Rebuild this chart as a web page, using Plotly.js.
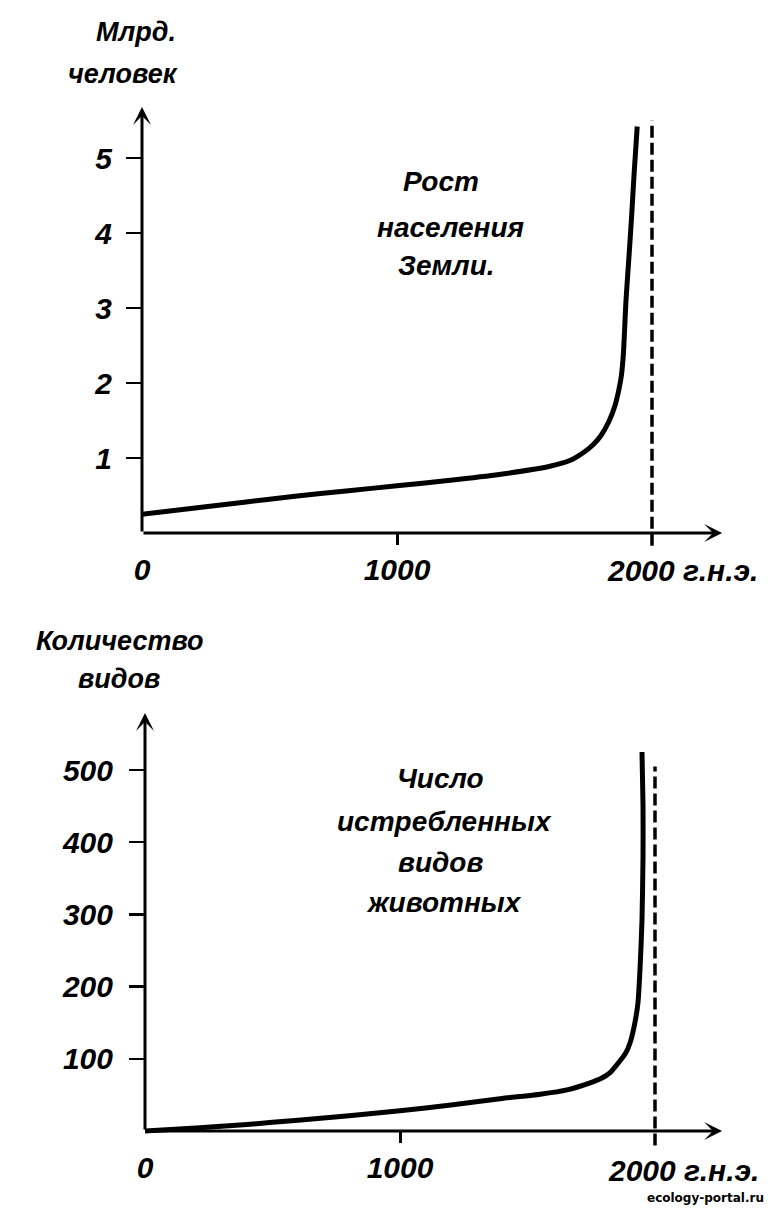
<!DOCTYPE html>
<html>
<head>
<meta charset="utf-8">
<script src="https://cdn.plot.ly/plotly-3.0.1.min.js"></script>
<style>html,body{margin:0;padding:0;background:#fff;}#chart{width:768px;height:1209px;}</style>
</head>
<body>
<div id="chart"></div>
<script>
// ---------- DATA ----------
// Top chart: world population growth (billions)
const popYears  = [0, 200, 400, 600, 800, 1000, 1200, 1400, 1600, 1680, 1730, 1770, 1800, 1830, 1855, 1870, 1880, 1888, 1898, 1910, 1920, 1930, 1942];
const popValues = [0.25, 0.33, 0.41, 0.49, 0.56, 0.63, 0.70, 0.78, 0.89, 0.97, 1.07, 1.18, 1.30, 1.48, 1.70, 1.91, 2.10, 2.40, 3.10, 3.70, 4.22, 4.80, 5.42];
const popTickVals = [1, 2, 3, 4, 5];
const popTickText = ['1', '2', '3', '4', '5'];

// Bottom chart: number of exterminated animal species
const spYears  = [0, 200, 400, 600, 800, 1000, 1200, 1400, 1550, 1655, 1740, 1790, 1824, 1860, 1885, 1902, 1920, 1933, 1942, 1949, 1953, 1953, 1949];
const spValues = [0, 4, 9, 15, 21, 28, 36, 45, 51, 57, 66, 73, 81, 96, 108, 122, 148, 177, 230, 292, 380, 450, 525];
const spTickVals = [100, 200, 300, 400, 500];
const spTickText = ['100', '200', '300', '400', '500'];

// shared x ticks
const xTickVals = [0, 1000];
const xTickText = ['0', '1000'];
const xMinorTick = [1000];
const xEndLabel = '2000 г.н.э.';
const markYear = 2000;

// dashed reference line (x = 2000) extents
const popDashY = [-0.17, 5.5];
const spDashY = [-20, 505];

// axis arrow tips
const popArrowX = 2275, popArrowY = 5.68;
const spArrowX = 2263, spArrowY = 579;

// texts
const popYTitle = ['Млрд.', 'человек'];
const spYTitle = ['Количество', 'видов'];
const popNote = ['Рост', 'населения', 'Земли.'];
const spNote = ['Число', 'истребленных', 'видов', 'животных'];
const watermark = 'ecology-portal.ru';

// ---------- LAYOUT HELPERS ----------
const W = 768, H = 1209;
const FONT = 'Liberation Sans, Arial, sans-serif';
const f = (size) => ({family: FONT, size: size, color: '#000', style: 'italic', weight: 'bold'});
const yfrac = (px) => 1 - px / H;

// top subplot pixel geometry
const T = {x0: 142, xs: 0.255, y0: 533, ys: 75.0, xr: [0, 2290], yr: [-0.25, 5.7]};
// bottom subplot pixel geometry
const B = {x0: 145, xs: 0.255, y0: 1131, ys: 0.722, xr: [0, 2275], yr: [-25, 585]};

function xDomain(g){ return [g.x0 / W, (g.x0 + g.xs * g.xr[1]) / W]; }
function yDomain(g){ return [yfrac(g.y0 - g.yr[0] * g.ys), yfrac(g.y0 - g.yr[1] * g.ys)]; }

const curveLine = {color: '#000', width: 5, shape: 'spline', smoothing: 0.6};
const dashLine = {color: '#000', width: 3.5, dash: '12px,5px'};

const traces = [
  {x: popYears, y: popValues, xaxis: 'x', yaxis: 'y', mode: 'lines', line: curveLine, hoverinfo: 'skip'},
  {x: [markYear, markYear], y: popDashY, xaxis: 'x', yaxis: 'y', mode: 'lines', line: dashLine, hoverinfo: 'skip'},
  {x: spYears, y: spValues, xaxis: 'x2', yaxis: 'y2', mode: 'lines', line: curveLine, hoverinfo: 'skip'},
  {x: [markYear, markYear], y: spDashY, xaxis: 'x2', yaxis: 'y2', mode: 'lines', line: dashLine, hoverinfo: 'skip'}
];

function xAxis(g){
  return {
    domain: xDomain(g), range: g.xr, anchor: 'free', position: yfrac(g.y0),
    showgrid: false, zeroline: false, showline: false,
    tickmode: 'array', tickvals: xTickVals, ticktext: xTickText, ticks: '',
    ticklabelstandoff: 16, tickfont: f(30),
    minor: {tickmode: 'array', tickvals: xMinorTick, ticks: 'outside', ticklen: 11, tickwidth: 3, tickcolor: '#000'},
    fixedrange: true
  };
}
function yAxis(g, xname, tv, tt, standoff){
  return {
    domain: yDomain(g), range: g.yr, anchor: xname,
    showgrid: false, zeroline: false, showline: false,
    tickmode: 'array', tickvals: tv, ticktext: tt, ticks: 'outside', ticklen: 15, tickwidth: 2.5, tickcolor: '#000',
    ticklabelstandoff: standoff, tickfont: f(30), fixedrange: true
  };
}

function axisArrow(xr, yr, x, y){
  return {xref: xr, yref: yr, axref: xr, ayref: yr, x: x, y: y, ax: 0, ay: 0, text: '', showarrow: true,
          arrowhead: 3, arrowsize: 1, arrowwidth: 3, arrowcolor: '#000', standoff: 0, startstandoff: 0};
}
function paperText(txt, px, py, size){
  return {xref: 'paper', yref: 'paper', x: px / W, y: yfrac(py), text: txt, showarrow: false,
          xanchor: 'center', yanchor: 'middle', font: f(size)};
}

const annotations = [
  axisArrow('x', 'y', popArrowX, 0),
  axisArrow('x', 'y', 0, popArrowY),
  axisArrow('x2', 'y2', spArrowX, 0),
  axisArrow('x2', 'y2', 0, spArrowY),
  {xref: 'x', yref: 'y', x: markYear, y: 0, text: xEndLabel, showarrow: false, xanchor: 'left', yanchor: 'middle',
   xshift: -47, yshift: -37, font: f(30)},
  {xref: 'x2', yref: 'y2', x: markYear, y: 0, text: xEndLabel, showarrow: false, xanchor: 'left', yanchor: 'middle',
   xshift: -49, yshift: -39, font: f(30)},
  paperText(popYTitle[0], 136, 32, 27),
  paperText(popYTitle[1], 123, 74, 27),
  paperText(spYTitle[0], 120, 641, 27),
  paperText(spYTitle[1], 119, 679, 27),
  {xref: 'paper', yref: 'paper', x: 1, y: 0, xanchor: 'right', yanchor: 'bottom', text: watermark, showarrow: false,
   font: {family: 'DejaVu Sans', size: 12, color: '#000', weight: 'bold'}, yshift: 2, xshift: -2}
];
// inner notes, one annotation per line
const popNoteX = [441, 450, 446], popNoteY = [182, 227, 266];
const spNoteX = [440, 444, 440, 444], spNoteY = [778, 821, 862, 902];
popNote.forEach((t, i) => annotations.push(paperText(t, popNoteX[i], popNoteY[i], 28)));
spNote.forEach((t, i) => annotations.push(paperText(t, spNoteX[i], spNoteY[i], 28)));

const layout = {
  width: W, height: H,
  margin: {l: 0, r: 0, t: 0, b: 0, pad: 0},
  paper_bgcolor: '#fff', plot_bgcolor: 'rgba(0,0,0,0)',
  showlegend: false,
  xaxis: xAxis(T), yaxis: yAxis(T, 'x', popTickVals, popTickText, 8),
  xaxis2: xAxis(B), yaxis2: yAxis(B, 'x2', spTickVals, spTickText, 10),
  annotations: annotations
};

Plotly.newPlot('chart', traces, layout, {staticPlot: true, displayModeBar: false});
</script>
</body>
</html>
